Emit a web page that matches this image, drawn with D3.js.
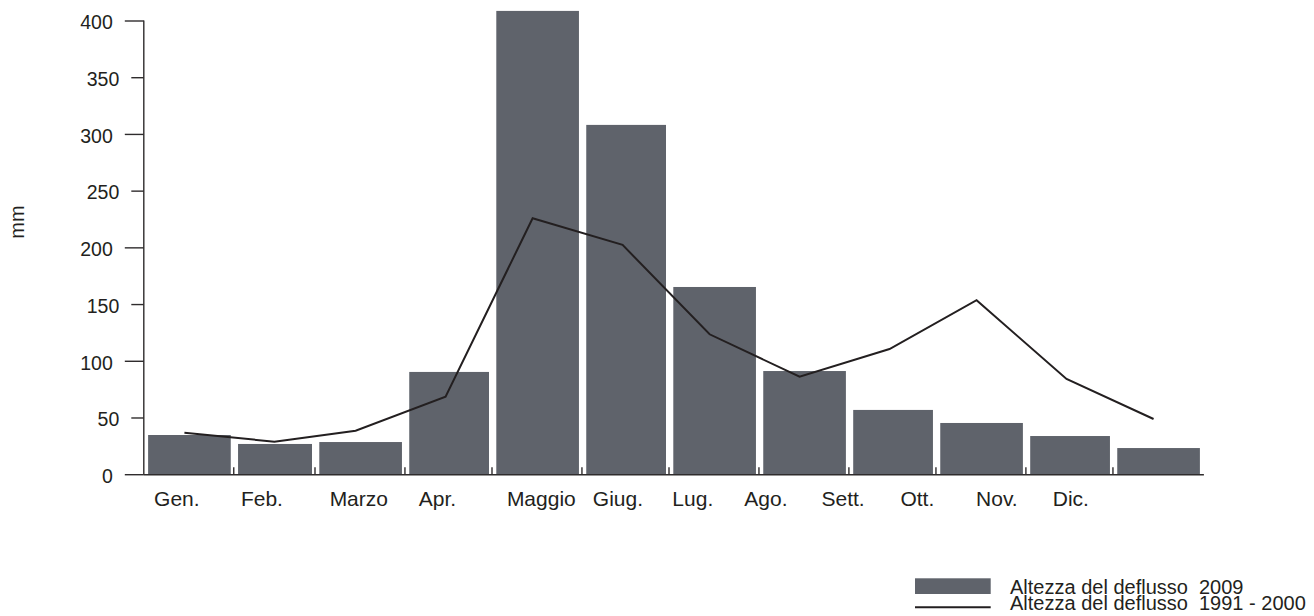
<!DOCTYPE html>
<html>
<head>
<meta charset="utf-8">
<script src="https://cdn.jsdelivr.net/npm/d3@7"></script>
<style>
  html, body { margin: 0; padding: 0; background: #fff; }
  svg { display: block; font-family: "Liberation Sans", Arial, Helvetica, sans-serif; }
</style>
</head>
<body>
<svg id="chart" width="1314" height="616"></svg>
<script>
// ---- data ----
const months = ["Gen.", "Feb.", "Marzo", "Apr.", "Maggio", "Giug.", "Lug.", "Ago.", "Sett.", "Ott.", "Nov.", "Dic."];
const monthDays = [31, 28, 31, 30, 31, 30, 31, 31, 30, 31, 30, 31];
const runoff2009 = [35.0, 27.1, 28.8, 90.6, 408.9, 308.4, 165.5, 91.4, 57.1, 45.6, 34.1, 23.5];
const runoff1991_2000 = [37.0, 29.1, 38.8, 68.8, 226.1, 202.6, 123.8, 86.4, 110.8, 153.8, 84.4, 49.1];
const labelDays = [11.4, 40.7, 74.1, 101.2, 137, 163.4, 189.2, 214.4, 241, 266.6, 294, 319.5];
const yTicks = [0, 50, 100, 150, 200, 250, 300, 350, 400];
const yLabel = "mm";
const legendLabels = ["Altezza del deflusso\u00A0 2009", "Altezza del deflusso\u00A0 1991 - 2000"];

// ---- derived ----
const starts = [];
monthDays.reduce((acc, d, i) => { starts[i] = acc; return acc + d; }, 0);
const totalDays = d3.sum(monthDays);

const svg = d3.select("#chart");
const x = d3.scaleLinear().domain([0, totalDays]).range([143.8, 1202.9]);
const y = d3.scaleLinear().domain([0, 400]).range([474.7, 21]);

const barColor = "#5f636b";
const axisColor = "#2f2c2d";
const lineColor = "#231f20";

// bars
svg.append("g").selectAll("rect")
  .data(runoff2009)
  .join("rect")
  .attr("x", (d, i) => x(starts[i]) + 4.3)
  .attr("width", (d, i) => x(starts[i] + monthDays[i]) - x(starts[i]) - 7.3)
  .attr("y", d => y(d))
  .attr("height", d => y(0) - y(d))
  .attr("fill", barColor);

// y axis
const gy = svg.append("g");
gy.append("line")
  .attr("x1", x(0)).attr("x2", x(0))
  .attr("y1", y(400) - 0.5).attr("y2", y(0))
  .attr("stroke", axisColor).attr("stroke-width", 1.4);
gy.selectAll("line.tick")
  .data(yTicks)
  .join("line")
  .attr("class", "tick")
  .attr("x1", d => x(0) - (d % 100 === 0 ? 19 : 12.5))
  .attr("x2", x(0))
  .attr("y1", d => y(d)).attr("y2", d => y(d))
  .attr("stroke", axisColor).attr("stroke-width", 1.4);
gy.selectAll("text")
  .data(yTicks)
  .join("text")
  .attr("x", d => x(0) - (d % 100 === 0 ? 19 : 12.5) - 12)
  .attr("y", d => y(d) + 1.5)
  .attr("dy", "0.35em")
  .attr("text-anchor", "end")
  .attr("font-size", 19.5)
  .attr("fill", "#231f20")
  .text(d => d);

// y label
svg.append("text")
  .attr("transform", "translate(24,222) rotate(-90)")
  .attr("text-anchor", "middle")
  .attr("font-size", 20)
  .attr("fill", "#231f20")
  .text(yLabel);

// x axis
const gx = svg.append("g");
gx.append("line")
  .attr("x1", x(0)).attr("x2", x(totalDays) + 1)
  .attr("y1", y(0)).attr("y2", y(0))
  .attr("stroke", axisColor).attr("stroke-width", 1.6);
gx.selectAll("line.tick")
  .data(starts.slice(1))
  .join("line")
  .attr("class", "tick")
  .attr("x1", d => x(d)).attr("x2", d => x(d))
  .attr("y1", y(0)).attr("y2", y(0) - 7.5)
  .attr("stroke", axisColor).attr("stroke-width", 1.4);
gx.selectAll("text")
  .data(months)
  .join("text")
  .attr("x", (d, i) => x(labelDays[i]))
  .attr("y", 506)
  .attr("text-anchor", "middle")
  .attr("font-size", 21)
  .attr("fill", "#231f20")
  .text(d => d);

// line series
const line = d3.line()
  .x((d, i) => x(starts[i] + 14))
  .y(d => y(d));
svg.append("path")
  .datum(runoff1991_2000)
  .attr("d", line)
  .attr("fill", "none")
  .attr("stroke", lineColor)
  .attr("stroke-width", 2)
  .attr("stroke-linejoin", "miter");

// legend
const lg = svg.append("g");
lg.append("rect")
  .attr("x", 915).attr("y", 578.3)
  .attr("width", 75.7).attr("height", 15.7)
  .attr("fill", barColor);
lg.append("line")
  .attr("x1", 915).attr("x2", 990.7)
  .attr("y1", 607.3).attr("y2", 607.3)
  .attr("stroke", lineColor).attr("stroke-width", 2);
lg.selectAll("text")
  .data(legendLabels)
  .join("text")
  .attr("x", 1010)
  .attr("y", (d, i) => 594.3 + i * 15.2)
  .attr("font-size", 20)
  .attr("fill", "#231f20")
  .text(d => d);
</script>
</body>
</html>
